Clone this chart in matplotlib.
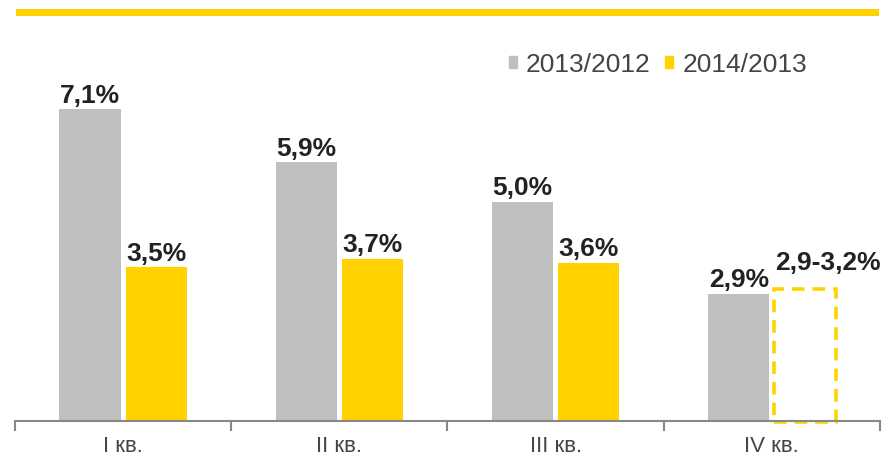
import matplotlib
matplotlib.use('Agg')

import matplotlib.pyplot as plt
from matplotlib.patches import Patch, Rectangle
import numpy as np

plt.rcParams['font.family'] = ['Liberation Sans', 'DejaVu Sans']

# Данные
kvartaly = ['I кв.', 'II кв.', 'III кв.', 'IV кв.']
rost_2013 = [7.1, 5.9, 5.0, 2.9]
rost_2014 = [3.5, 3.7, 3.6]          # IV кв. 2014 - прогноз
prognoz_iv = [2.9, 3.2]               # диапазон прогноза
ramka_iv = 3.0                        # высота пунктирной рамки
podpisi_2013 = ['7,1%', '5,9%', '5,0%', '2,9%']
podpisi_2014 = ['3,5%', '3,7%', '3,6%', '2,9-3,2%']
legenda = ['2013/2012', '2014/2013']

SERYJ = '#BFBFBF'
ZHELTYJ = '#FFD200'
TEKST = '#222222'
OS = '#888888'

fig = plt.figure(figsize=(8.87, 4.59), dpi=100)
ax = fig.add_axes([15 / 887, 38 / 459, 865 / 887, 351 / 459])

x = np.arange(len(kvartaly))
width = 0.283
offset = 0.153

ax.bar(x - offset, rost_2013, width, color=SERYJ, linewidth=0)
ax.bar(x[:len(rost_2014)] + offset, rost_2014, width, color=ZHELTYJ, linewidth=0)

# пунктирная рамка прогноза
ax.add_patch(Rectangle((x[3] + offset - width / 2, -0.03), width, ramka_iv + 0.03,
                       fill=False, edgecolor=ZHELTYJ, linewidth=2.6,
                       linestyle=(0, (3.5, 2.2)), clip_on=False))

# подписи значений
dy = 0.15
for xi, v, s in zip(x - offset, rost_2013, podpisi_2013):
    ax.text(xi, v + dy, s, ha='center', va='baseline', fontsize=19,
            fontweight='bold', color=TEKST)
for xi, v, s in zip(x[:3] + offset, rost_2014, podpisi_2014[:3]):
    ax.text(xi, v + dy, s, ha='center', va='baseline', fontsize=19,
            fontweight='bold', color=TEKST)
ax.text(x[3] + offset + 0.105, prognoz_iv[1] + dy + 0.1, podpisi_2014[3],
        ha='center', va='baseline', fontsize=19, fontweight='bold', color=TEKST)

ax.set_xlim(-0.5, 3.5)
ax.set_ylim(0, 8)
ax.set_yticks([])
for side in ['left', 'right', 'top']:
    ax.spines[side].set_visible(False)
ax.spines['bottom'].set_color(OS)
ax.spines['bottom'].set_linewidth(1.5)

ax.set_xticks([-0.5, 0.5, 1.5, 2.5, 3.5])
ax.set_xticklabels([])
ax.tick_params(axis='x', which='major', length=7, width=1.5, color=OS)
ax.set_xticks(x, minor=True)
ax.set_xticklabels(kvartaly, minor=True, fontsize=16, color='#3F474D')
ax.tick_params(axis='x', which='minor', length=0, pad=11)

handles = [Patch(color=SERYJ), Patch(color=ZHELTYJ)]
fig.legend(handles, legenda, loc='center right', bbox_to_anchor=(807 / 887, 1 - 64.5 / 459),
           ncol=2, frameon=False, fontsize=19, handlelength=0.3, handleheight=0.3,
           handletextpad=0.35, columnspacing=0.55, borderpad=0, borderaxespad=0,
           labelcolor='#3F474D')

# жёлтая полоса вверху
fig.add_artist(Rectangle((16 / 887, 1 - 16 / 459), 863 / 887, 7 / 459,
                         transform=fig.transFigure, color=ZHELTYJ, linewidth=0))

fig.savefig('out.png', dpi=100)
